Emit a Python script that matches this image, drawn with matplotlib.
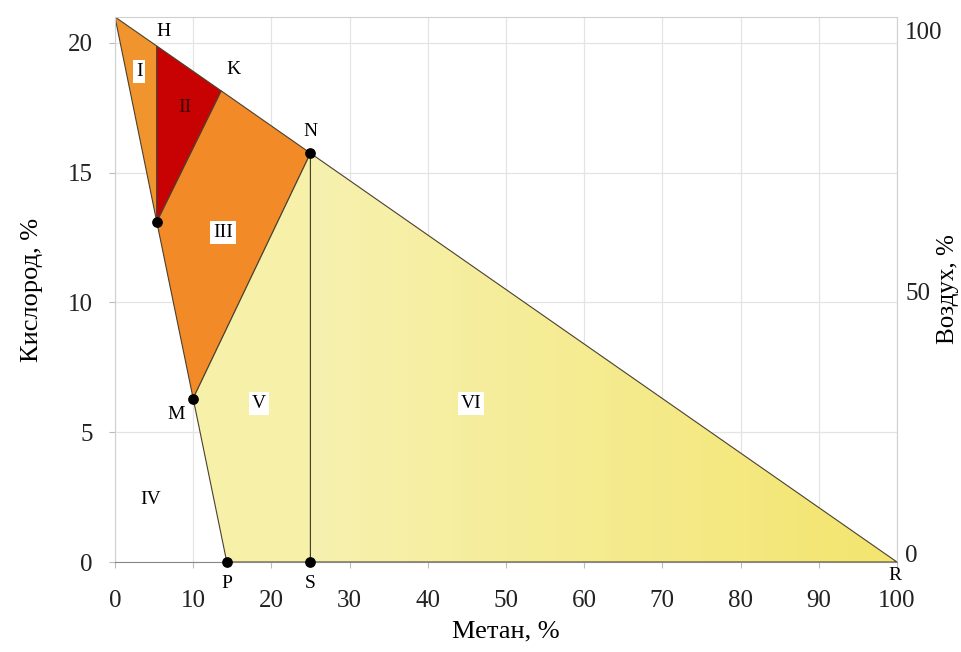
import numpy as np
import matplotlib.pyplot as plt
from matplotlib.patches import Polygon
from matplotlib.colors import LinearSegmentedColormap

plt.rcParams['font.family'] = ['Liberation Serif', 'DejaVu Serif']

# Ключевые точки диаграммы (метан %, кислород %)
top = (0.0, 21.0)
H = (5.35, 19.88)
K = (13.6, 18.15)
N = (25.0, 15.75)
L = (5.35, 13.1)
M = (10.0, 6.3)
P = (14.3, 0.0)
S = (25.0, 0.0)
R = (100.0, 0.0)

region_I = [top, H, L]
region_II = [H, K, L]
region_III = [L, K, N, M]
region_V = [M, N, S, P]
region_VI = [N, R, S]

x_ticks = [0, 10, 20, 30, 40, 50, 60, 70, 80, 90, 100]
y_ticks = [0, 5, 10, 15, 20]
air_ticks = [0, 50, 100]

fig = plt.figure(figsize=(9.62, 6.52), dpi=100)
ax = fig.add_axes([0.1195, 0.138, 0.8129, 0.836])
ax.set_xlim(0, 100)
ax.set_ylim(0, 21)

ax.grid(True, color="#e4e4e4", linewidth=0.9)
ax.set_axisbelow(True)

edge = "#4a4030"
ax.add_patch(Polygon(region_I, closed=True, facecolor="#f0952e", edgecolor=edge, lw=0.8, zorder=2))
ax.add_patch(Polygon(region_II, closed=True, facecolor="#c80202", edgecolor=edge, lw=0.8, zorder=2))
ax.add_patch(Polygon(region_III, closed=True, facecolor="#f28a28", edgecolor=edge, lw=0.8, zorder=2))
ax.add_patch(Polygon(region_V, closed=True, facecolor="#f6f0a8", edgecolor=edge, lw=0.8, zorder=2))

# область VI с градиентом
cmap = LinearSegmentedColormap.from_list("yel", ["#f7f1b0", "#f3e56e"])
grad = np.linspace(0, 1, 256).reshape(1, -1)
poly6 = Polygon(region_VI, closed=True, facecolor="none", edgecolor=edge, lw=0.8, zorder=3)
ax.add_patch(poly6)
im = ax.imshow(grad, extent=[N[0], R[0], 0, N[1]], aspect="auto", cmap=cmap, zorder=2)
im.set_clip_path(Polygon(region_VI, closed=True, transform=ax.transData))

# точки
pts = [L, N, M, P, S]
ax.scatter([p[0] for p in pts], [p[1] for p in pts], s=45, color="black", zorder=5, clip_on=False)

# подписи точек
fs = 14
ax.text(H[0] + 0.8, H[1] + 0.25, "H", fontsize=fs, ha="center", va="bottom")
ax.text(K[0] + 1.6, K[1] + 0.5, "K", fontsize=fs, ha="center", va="bottom")
ax.text(N[0], N[1] + 0.5, "N", fontsize=fs, ha="center", va="bottom")
ax.text(M[0] - 2.2, M[1] - 0.3, "M", fontsize=fs, ha="center", va="top")
ax.text(P[0], -0.5, "P", fontsize=fs, ha="center", va="top")
ax.text(S[0], -0.5, "S", fontsize=fs, ha="center", va="top")
ax.text(R[0] - 0.3, -0.2, "R", fontsize=fs, ha="center", va="top")

# подписи областей
box = dict(facecolor="white", edgecolor="none", pad=2)
ax.text(3.1, 18.9, "I", fontsize=fs, ha="center", va="center", bbox=box, zorder=6)
ax.text(9.0, 17.5, "II", fontsize=fs, ha="center", va="center", color="#3a0000", zorder=6)
ax.text(13.8, 12.7, "III", fontsize=fs, ha="center", va="center", bbox=box, zorder=6)
ax.text(18.4, 6.1, "V", fontsize=fs, ha="center", va="center", bbox=box, zorder=6)
ax.text(45.5, 6.1, "VI", fontsize=fs, ha="center", va="center", bbox=box, zorder=6)
ax.text(4.5, 2.4, "IV", fontsize=fs, ha="center", va="center", zorder=6)

ax.set_xticks(x_ticks)
ax.set_yticks(y_ticks)
ax.tick_params(labelsize=18, labelcolor="#222222", length=4, width=0.8, color="#bbbbbb")
ax.tick_params(axis="x", pad=16)
ax.tick_params(axis="y", pad=12)
ax.set_xlabel("Метан, %", fontsize=19, labelpad=6)
ax.set_ylabel("Кислород, %", fontsize=19, labelpad=18)

for name in ["left", "top", "right"]:
    ax.spines[name].set_color("#d0d0d0")
ax.spines["bottom"].set_color("#888888")

ax2 = ax.twinx()
ax2.set_ylim(-1.7, 102.5)
ax2.set_yticks(air_ticks)
ax2.tick_params(labelsize=18, length=0, pad=6, labelcolor="#222222")
ax2.set_ylabel("Воздух, %", fontsize=18, labelpad=-4)
for name in ["left", "top", "right", "bottom"]:
    ax2.spines[name].set_visible(False)

fig.savefig("out.png", dpi=100)
